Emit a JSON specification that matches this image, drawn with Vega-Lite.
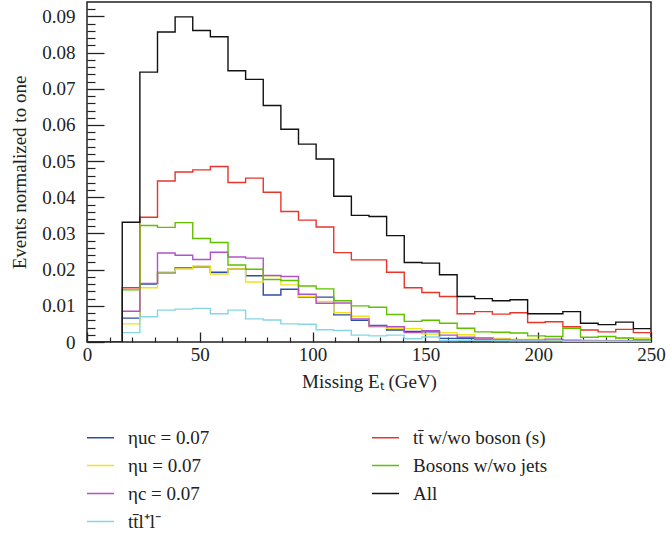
{
  "$schema": "https://vega.github.io/schema/vega-lite/v6.json",
  "width": 564,
  "height": 340,
  "padding": {"left": 10, "top": 2, "right": 8, "bottom": 5},
  "background": "white",
  "config": {
    "view": {"stroke": "#222", "strokeWidth": 1.5},
    "font": "Liberation Serif",
    "axis": {"labelFont": "Liberation Serif", "titleFont": "Liberation Serif", "labelColor": "#222", "titleColor": "#222", "tickColor": "#222", "domain": false, "grid": false, "titleFontWeight": "normal"}
  },
  "data": {
    "values": [
      {"x": 0, "uc": 0, "u": 0, "c": 0, "ttll": 0, "tt": 0, "bos": 0, "all": 0},
      {"x": 7.8125, "uc": 0, "u": 0, "c": 0, "ttll": 0, "tt": 0, "bos": 0, "all": 0},
      {"x": 15.625, "uc": 0.0066, "u": 0.0050, "c": 0.0085, "ttll": 0.0026, "tt": 0.0150, "bos": 0.0144, "all": 0.0331},
      {"x": 23.4375, "uc": 0.0160, "u": 0.0150, "c": 0.0162, "ttll": 0.0070, "tt": 0.0345, "bos": 0.0322, "all": 0.0746},
      {"x": 31.25, "uc": 0.0191, "u": 0.0194, "c": 0.0246, "ttll": 0.0088, "tt": 0.0445, "bos": 0.0317, "all": 0.0857},
      {"x": 39.0625, "uc": 0.0205, "u": 0.0202, "c": 0.0240, "ttll": 0.0091, "tt": 0.0470, "bos": 0.0330, "all": 0.0899},
      {"x": 46.875, "uc": 0.0208, "u": 0.0210, "c": 0.0228, "ttll": 0.0093, "tt": 0.0476, "bos": 0.0286, "all": 0.0861},
      {"x": 54.6875, "uc": 0.0193, "u": 0.0188, "c": 0.0248, "ttll": 0.0078, "tt": 0.0485, "bos": 0.0275, "all": 0.0844},
      {"x": 62.5, "uc": 0.0202, "u": 0.0202, "c": 0.0235, "ttll": 0.0088, "tt": 0.0441, "bos": 0.0213, "all": 0.0750},
      {"x": 70.3125, "uc": 0.0183, "u": 0.0166, "c": 0.0232, "ttll": 0.0064, "tt": 0.0453, "bos": 0.0201, "all": 0.0726},
      {"x": 78.125, "uc": 0.0130, "u": 0.0183, "c": 0.0184, "ttll": 0.0061, "tt": 0.0414, "bos": 0.0173, "all": 0.0654},
      {"x": 85.9375, "uc": 0.0146, "u": 0.0158, "c": 0.0181, "ttll": 0.0050, "tt": 0.0361, "bos": 0.0170, "all": 0.0588},
      {"x": 93.75, "uc": 0.0124, "u": 0.0126, "c": 0.0132, "ttll": 0.0049, "tt": 0.0337, "bos": 0.0155, "all": 0.0547},
      {"x": 101.5625, "uc": 0.0124, "u": 0.0112, "c": 0.0107, "ttll": 0.0034, "tt": 0.0318, "bos": 0.0147, "all": 0.0506},
      {"x": 109.375, "uc": 0.0075, "u": 0.0081, "c": 0.0108, "ttll": 0.0032, "tt": 0.0247, "bos": 0.0114, "all": 0.0403},
      {"x": 117.1875, "uc": 0.0060, "u": 0.0071, "c": 0.0064, "ttll": 0.0019, "tt": 0.0227, "bos": 0.0100, "all": 0.0350},
      {"x": 125, "uc": 0.0046, "u": 0.0041, "c": 0.0044, "ttll": 0.0017, "tt": 0.0227, "bos": 0.0096, "all": 0.0347},
      {"x": 132.8125, "uc": 0.0033, "u": 0.0038, "c": 0.0042, "ttll": 0.0019, "tt": 0.0193, "bos": 0.0076, "all": 0.0294},
      {"x": 140.625, "uc": 0.0029, "u": 0.0037, "c": 0.0026, "ttll": 0.0009, "tt": 0.0150, "bos": 0.0057, "all": 0.0220},
      {"x": 148.4375, "uc": 0.0028, "u": 0.0022, "c": 0.0031, "ttll": 0.0014, "tt": 0.0137, "bos": 0.0060, "all": 0.0218},
      {"x": 156.25, "uc": 0.0010, "u": 0.0026, "c": 0.0019, "ttll": 0.0004, "tt": 0.0126, "bos": 0.0052, "all": 0.0186},
      {"x": 164.0625, "uc": 0.0010, "u": 0.0020, "c": 0.0013, "ttll": 0.0005, "tt": 0.0078, "bos": 0.0038, "all": 0.0126},
      {"x": 171.875, "uc": 0.0007, "u": 0.0011, "c": 0.0011, "ttll": 0.0005, "tt": 0.0084, "bos": 0.0028, "all": 0.0120},
      {"x": 179.6875, "uc": 0.0005, "u": 0.0010, "c": 0.0007, "ttll": 0.0004, "tt": 0.0077, "bos": 0.0027, "all": 0.0114},
      {"x": 187.5, "uc": 0.0004, "u": 0.0007, "c": 0.0005, "ttll": 0.0003, "tt": 0.0081, "bos": 0.0025, "all": 0.0117},
      {"x": 195.3125, "uc": 0.0003, "u": 0.0008, "c": 0.0005, "ttll": 0.0003, "tt": 0.0054, "bos": 0.0017, "all": 0.0078},
      {"x": 203.125, "uc": 0.0003, "u": 0.0005, "c": 0.0008, "ttll": 0.0003, "tt": 0.0056, "bos": 0.0015, "all": 0.0078},
      {"x": 210.9375, "uc": 0.0003, "u": 0.0004, "c": 0.0005, "ttll": 0.0002, "tt": 0.0042, "bos": 0.0038, "all": 0.0084},
      {"x": 218.75, "uc": 0.0002, "u": 0.0005, "c": 0.0003, "ttll": 0.0002, "tt": 0.0033, "bos": 0.0013, "all": 0.0052},
      {"x": 226.5625, "uc": 0.0002, "u": 0.0004, "c": 0.0003, "ttll": 0.0002, "tt": 0.0028, "bos": 0.0015, "all": 0.0048},
      {"x": 234.375, "uc": 0.0002, "u": 0.0011, "c": 0.0003, "ttll": 0.0002, "tt": 0.0035, "bos": 0.0011, "all": 0.0055},
      {"x": 242.1875, "uc": 0.0002, "u": 0.0011, "c": 0.0002, "ttll": 0.0002, "tt": 0.0026, "bos": 0.0007, "all": 0.0037},
      {"x": 250, "uc": 0.0002, "u": 0.0011, "c": 0.0002, "ttll": 0.0002, "tt": 0.0026, "bos": 0.0007, "all": 0.0037}
    ]
  },
  "transform": [
    {"fold": ["uc", "u", "c", "ttll", "tt", "bos", "all"], "as": ["series", "value"]}
  ],
  "layer": [
    {
      "mark": {"type": "line", "interpolate": "step-after", "strokeWidth": 1.4, "clip": true},
      "encoding": {
        "x": {
          "field": "x", "type": "quantitative",
          "scale": {"domain": [0, 250], "nice": false, "zero": false},
          "axis": {"values": [0, 50, 100, 150, 200, 250], "tickSize": -10, "tickWidth": 1.3, "labelPadding": 13, "labelFontSize": 19, "labelFlush": false, "title": "Missing Eₜ (GeV)", "titleFontSize": 19, "titlePadding": 8}
        },
        "y": {
          "field": "value", "type": "quantitative",
          "scale": {"domain": [0, 0.094], "nice": false},
          "axis": {"values": [0, 0.01, 0.02, 0.03, 0.04, 0.05, 0.06, 0.07, 0.08, 0.09], "tickSize": -17, "tickWidth": 1.3, "labelPadding": 29, "labelFontSize": 19, "labelExpr": "datum.value == 0 ? '0' : format(datum.value, '.2f')", "title": "Events normalized to one", "titleFontSize": 19, "titlePadding": 12}
        },
        "color": {
          "field": "series", "type": "nominal",
          "scale": {
            "domain": ["uc", "u", "c", "ttll", "tt", "bos", "all"],
            "range": ["#2b4fa6", "#f2e21a", "#b252c8", "#86d6e6", "#e8352b", "#5fc000", "#111111"]
          },
          "legend": {
            "title": null, "orient": "none", "legendX": -1, "legendY": 421,
            "columns": 2, "columnPadding": 159, "rowPadding": 3,
            "symbolType": "stroke", "symbolSize": 729, "symbolStrokeWidth": 1.5,
            "labelFont": "Liberation Serif", "labelFontSize": 19, "labelColor": "#222", "labelOffset": 13, "labelLimit": 400,
            "labelExpr": "{'uc': 'ηuc = 0.07', 'u': 'ηu = 0.07', 'c': 'ηc = 0.07', 'ttll': 'tt̄l⁺l⁻', 'tt': 'tt̄ w/wo boson (s)', 'bos': 'Bosons w/wo jets', 'all': 'All'}[datum.value]"
          }
        }
      }
    },
    {
      "mark": {"type": "line", "opacity": 0},
      "encoding": {
        "x": {
          "field": "x", "type": "quantitative",
          "axis": {"values": [10, 20, 30, 40, 60, 70, 80, 90, 110, 120, 130, 140, 160, 170, 180, 190, 210, 220, 230, 240], "tickSize": -5, "tickWidth": 1.2, "labels": false, "title": null, "orient": "bottom"}
        },
        "y": {
          "field": "value", "type": "quantitative",
          "axis": {"values": [0.002, 0.004, 0.006, 0.008, 0.012, 0.014, 0.016, 0.018, 0.022, 0.024, 0.026, 0.028, 0.032, 0.034, 0.036, 0.038, 0.042, 0.044, 0.046, 0.048, 0.052, 0.054, 0.056, 0.058, 0.062, 0.064, 0.066, 0.068, 0.072, 0.074, 0.076, 0.078, 0.082, 0.084, 0.086, 0.088, 0.092], "tickSize": -8, "tickWidth": 1.2, "labels": false, "title": null, "orient": "left"}
        },
        "detail": {"field": "series"}
      }
    }
  ],
  "resolve": {"axis": {"x": "independent", "y": "independent"}}
}
